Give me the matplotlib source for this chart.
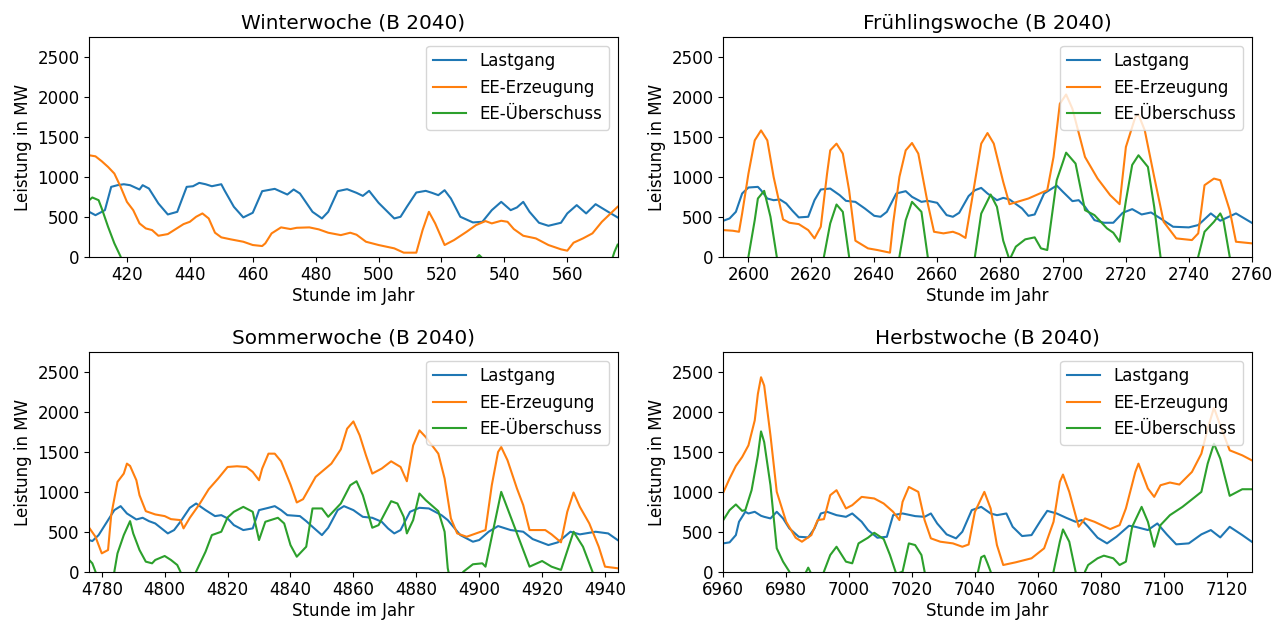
import matplotlib
matplotlib.use("Agg")
import matplotlib.pyplot as plt

# ─────────────────────────────────────────────
# DATA (MW per hour of year)
# EE-Überschuss dips below 0 where the load is larger; the axis cuts it off.
# ─────────────────────────────────────────────

# Winterwoche
winter_last_h = [408, 410, 413, 415, 417, 419, 421, 424, 425, 427, 430, 433, 436, 437, 439, 441, 443, 445,
                 447, 450, 451, 454, 457, 460, 463, 467, 471, 473, 475, 479, 482, 484, 487, 490, 493, 495,
                 497, 500, 505, 507, 509, 512, 515, 517, 519, 521, 523, 526, 530, 533, 536, 539, 542, 544,
                 546, 548, 551, 554, 558, 560, 563, 566, 569, 573, 576]
winter_last = [562, 520, 583, 875, 896, 908, 896, 842, 896, 854, 667, 529, 562, 667, 875, 883, 925, 908,
               883, 908, 833, 625, 492, 550, 821, 850, 779, 842, 792, 562, 479, 562, 821, 846, 800, 762,
               825, 675, 479, 500, 625, 804, 825, 800, 771, 833, 729, 500, 429, 437, 583, 687, 583, 617,
               687, 562, 425, 387, 425, 542, 646, 542, 658, 562, 492]
winter_ee_h = [408, 410, 412, 414, 416, 418, 420, 422, 424, 426, 428, 430, 433, 435, 438, 440, 442, 444,
               446, 448, 450, 453, 457, 460, 463, 464, 466, 469, 472, 474, 478, 481, 484, 488, 491, 493,
               496, 500, 505, 508, 512, 514, 516, 518, 521, 524, 528, 531, 534, 536, 539, 541, 543, 546,
               550, 554, 558, 560, 562, 565, 568, 571, 576]
winter_ee = [1271, 1258, 1196, 1125, 1042, 875, 687, 583, 417, 354, 333, 262, 283, 333, 408, 437, 500, 542,
             479, 300, 242, 217, 187, 146, 133, 167, 292, 367, 346, 362, 367, 342, 300, 270, 300, 275,
             187, 146, 104, 50, 50, 333, 562, 417, 146, 208, 312, 396, 446, 417, 450, 437, 346, 262,
             229, 146, 92, 75, 175, 229, 292, 437, 625]
winter_ueb_h = [408, 409, 411, 412, 414, 416, 418, 419, 531, 532, 533, 574, 575, 576]
winter_ueb = [708, 742, 708, 604, 375, 167, 0, -150, -20, 20, -20, -60, 60, 150]

# Frühlingswoche
spring_last_h = [2592, 2594, 2596, 2598, 2600, 2603, 2604, 2606, 2608, 2610, 2612, 2614, 2616, 2619, 2621,
                 2623, 2626, 2629, 2631, 2634, 2637, 2640, 2642, 2644, 2647, 2650, 2652, 2655, 2657, 2660,
                 2663, 2665, 2667, 2670, 2672, 2674, 2676, 2679, 2681, 2683, 2687, 2689, 2691, 2694, 2698,
                 2700, 2703, 2705, 2707, 2710, 2713, 2716, 2719, 2722, 2725, 2728, 2731, 2735, 2740, 2743,
                 2747, 2750, 2755, 2760]
spring_last = [450, 479, 562, 792, 867, 875, 833, 729, 708, 717, 667, 575, 492, 500, 708,
               842, 854, 771, 700, 687, 604, 512, 500, 562, 792, 821, 750, 687, 700, 675,
               521, 500, 550, 760, 833, 862, 792, 708, 737, 717, 604, 512, 529, 792, 892,
               812, 696, 708, 625, 458, 425, 425, 550, 596, 529, 554, 479, 375, 367, 396,
               542, 450, 542, 425]
spring_ee_h = [2592, 2595, 2597, 2598, 2600, 2602, 2604, 2606, 2608, 2611, 2613, 2616, 2619, 2621, 2623,
               2625, 2626, 2628, 2630, 2632, 2634, 2638, 2641, 2645, 2646, 2648, 2650, 2652, 2654, 2657,
               2659, 2662, 2665, 2667, 2669, 2671, 2674, 2676, 2678, 2681, 2683, 2689, 2695, 2697, 2699,
               2701, 2703, 2707, 2711, 2715, 2718, 2720, 2723, 2724, 2726, 2729, 2732, 2736, 2741, 2743,
               2745, 2748, 2750, 2753, 2755, 2760]
spring_ee = [333, 325, 312, 542, 1042, 1458, 1583, 1458, 1000, 467, 425, 408, 333, 229, 375,
             1042, 1333, 1417, 1292, 833, 200, 104, 83, 50, 417, 1000, 1333, 1425, 1292, 667,
             312, 292, 312, 283, 235, 700, 1417, 1550, 1417, 937, 658, 729, 833, 1250, 1917,
             2033, 1854, 1250, 979, 771, 658, 1375, 1750, 1783, 1583, 1000, 437, 229, 208, 292,
             896, 979, 958, 583, 187, 167]
spring_ueb_h = [2592, 2599, 2600, 2602, 2603, 2605, 2607, 2609, 2610, 2623, 2624, 2626, 2628, 2630, 2632,
                2633, 2647, 2648, 2650, 2652, 2655, 2657, 2658, 2671, 2672, 2674, 2677, 2679, 2681, 2683,
                2685, 2688, 2691, 2693, 2695, 2698, 2701, 2704, 2707, 2710, 2714, 2716, 2718, 2720, 2722,
                2724, 2727, 2729, 2731, 2732, 2742, 2743, 2745, 2748, 2750, 2751, 2753, 2754, 2760]
spring_ueb = [-300, -250, 0, 458, 729, 825, 500, 0, -250, -250, 0, 417, 654, 562, 0,
              -250, -250, 0, 458, 687, 562, 0, -250, -250, 0, 540, 779, 625, 200, -40,
              125, 217, 242, 104, 83, 958, 1304, 1167, 583, 521, 354, 300, 187, 700, 1150,
              1271, 1125, 625, 0, -250, -250, 0, 312, 437, 542, 458, 0, -250, -250]

# Sommerwoche
summer_last_h = [4776, 4777, 4779, 4782, 4784, 4786, 4788, 4791, 4793, 4795, 4797, 4801, 4803, 4805, 4808,
                 4810, 4813, 4816, 4818, 4820, 4822, 4825, 4828, 4830, 4833, 4835, 4837, 4839, 4843, 4845,
                 4847, 4850, 4852, 4855, 4857, 4860, 4863, 4866, 4869, 4871, 4873, 4875, 4878, 4881, 4884,
                 4888, 4890, 4894, 4898, 4900, 4903, 4906, 4910, 4914, 4917, 4922, 4925, 4929, 4932, 4937,
                 4941, 4944]
summer_last = [396, 383, 458, 646, 771, 821, 729, 654, 675, 633, 604, 479, 521, 625, 800,
               854, 771, 696, 708, 667, 583, 521, 542, 771, 800, 821, 771, 708, 696, 633,
               562, 458, 550, 771, 821, 771, 687, 675, 625, 542, 479, 521, 750, 800, 792,
               708, 646, 458, 375, 396, 500, 571, 521, 500, 408, 333, 367, 500, 467, 500,
               479, 396]
summer_ee_h = [4776, 4778, 4780, 4782, 4783, 4785, 4787, 4788, 4789, 4791, 4792, 4794, 4797, 4800, 4802,
               4805, 4806, 4808, 4811, 4814, 4817, 4820, 4823, 4826, 4828, 4830, 4831, 4833, 4835, 4837,
               4840, 4842, 4844, 4848, 4853, 4856, 4858, 4860, 4862, 4864, 4866, 4869, 4872, 4875, 4877,
               4879, 4881, 4883, 4887, 4889, 4891, 4893, 4896, 4899, 4902, 4904, 4906, 4907, 4909, 4912,
               4914, 4916, 4921, 4923, 4926, 4928, 4930, 4932, 4935, 4938, 4940, 4944]
summer_ee = [550, 437, 229, 271, 708, 1125, 1229, 1354, 1325, 1146, 958, 758, 717, 696, 658,
             646, 542, 675, 842, 1033, 1167, 1312, 1321, 1312, 1250, 1146, 1292, 1479, 1479, 1383,
             1092, 867, 908, 1188, 1354, 1533, 1792, 1883, 1708, 1458, 1229, 1292, 1383, 1312, 1133,
             1583, 1771, 1687, 1479, 1167, 667, 479, 437, 479, 521, 1083, 1500, 1562, 1396, 1042,
             833, 521, 521, 467, 367, 750, 992, 812, 604, 312, 62, 42]
summer_ueb_h = [4776, 4777, 4778, 4779, 4783, 4784, 4785, 4787, 4789, 4790, 4792, 4794, 4796, 4797, 4800,
                4802, 4804, 4805, 4806, 4809, 4810, 4813, 4815, 4818, 4820, 4822, 4825, 4828, 4830, 4832,
                4836, 4838, 4840, 4842, 4845, 4847, 4850, 4852, 4856, 4859, 4861, 4863, 4866, 4868, 4872,
                4874, 4876, 4877, 4879, 4881, 4883, 4887, 4889, 4890, 4891, 4894, 4895, 4898, 4901, 4902,
                4905, 4907, 4909, 4913, 4916, 4920, 4923, 4926, 4930, 4933, 4936, 4937, 4944]
summer_ueb = [146, 104, 0, -200, -200, 0, 229, 458, 633, 479, 271, 125, 104, 146, 196,
              146, 83, 0, -200, -200, 0, 250, 458, 500, 679, 750, 812, 750, 396, 625,
              675, 604, 333, 187, 312, 792, 792, 687, 854, 1083, 1133, 958, 550, 583, 883,
              854, 687, 479, 646, 979, 896, 758, 500, 42, -150, -50, 0, 92, 104, 62,
              625, 1000, 792, 375, 62, 133, 62, 21, 500, 312, 0, -200, -200]

# Herbstwoche
autumn_last_h = [6960, 6962, 6964, 6965, 6967, 6968, 6970, 6972, 6973, 6975, 6977, 6979, 6981, 6984, 6987,
                 6989, 6991, 6993, 6996, 6999, 7001, 7004, 7006, 7009, 7012, 7014, 7017, 7021, 7024, 7026,
                 7028, 7031, 7034, 7036, 7039, 7042, 7045, 7047, 7050, 7052, 7055, 7058, 7061, 7063, 7066,
                 7069, 7072, 7074, 7076, 7079, 7082, 7085, 7089, 7091, 7095, 7098, 7101, 7104, 7108, 7112,
                 7115, 7118, 7121, 7125, 7128]
autumn_last = [354, 367, 458, 625, 750, 729, 750, 700, 687, 667, 750, 667, 542, 437, 429,
               542, 729, 750, 708, 687, 729, 625, 521, 425, 437, 708, 729, 696, 687, 729,
               604, 467, 417, 500, 771, 812, 729, 708, 729, 562, 446, 458, 646, 762, 729,
               675, 625, 646, 562, 425, 354, 437, 575, 562, 521, 604, 467, 342, 354, 467,
               521, 429, 562, 458, 375]
autumn_ee_h = [6960, 6962, 6964, 6966, 6968, 6970, 6971, 6972, 6973, 6975, 6977, 6980, 6983, 6985, 6988,
               6990, 6992, 6994, 6996, 6999, 7001, 7004, 7008, 7011, 7014, 7016, 7017, 7019, 7022, 7024,
               7026, 7029, 7033, 7036, 7038, 7040, 7043, 7045, 7047, 7049, 7053, 7058, 7062, 7065, 7067,
               7068, 7070, 7073, 7075, 7078, 7083, 7086, 7088, 7091, 7092, 7095, 7097, 7099, 7102, 7105,
               7109, 7112, 7114, 7116, 7118, 7121, 7125, 7128]
autumn_ee = [992, 1167, 1325, 1437, 1583, 1896, 2229, 2437, 2333, 1708, 1000, 625, 425, 375, 458,
             646, 658, 958, 1021, 792, 833, 937, 917, 854, 750, 646, 875, 1062, 1000, 646,
             417, 375, 354, 312, 340, 750, 1000, 792, 333, 83, 117, 167, 292, 625, 1125,
             1217, 1000, 562, 667, 625, 533, 583, 792, 1250, 1354, 1042, 937, 1083, 1117, 1092,
             1250, 1479, 1792, 2054, 1833, 1521, 1458, 1396]
autumn_ueb_h = [6960, 6962, 6964, 6966, 6967, 6969, 6971, 6972, 6973, 6975, 6977, 6979, 6981, 6982, 6986,
                6987, 6988, 6991, 6992, 6994, 6996, 6999, 7001, 7003, 7006, 7008, 7011, 7013, 7015, 7017,
                7019, 7021, 7023, 7024, 7025, 7040, 7041, 7042, 7043, 7044, 7045, 7046, 7064, 7065, 7067,
                7068, 7070, 7072, 7073, 7074, 7075, 7076, 7079, 7081, 7084, 7086, 7088, 7090, 7093, 7095,
                7097, 7099, 7102, 7106, 7110, 7112, 7114, 7116, 7118, 7121, 7125, 7128]
autumn_ueb = [646, 771, 842, 762, 771, 1021, 1458, 1758, 1625, 1083, 292, 125, 0, -100, -30,
              50, -30, -100, 0, 208, 312, 125, 104, 354, 425, 487, 408, 208, -30, 0,
              354, 333, 208, 0, -250, -250, 0, 180, 200, 104, 0, -200, -200, 0, 375,
              529, 375, 0, -200, -200, 0, 83, 167, 200, 167, 83, 125, 562, 812, 625,
              312, 583, 708, 812, 937, 1000, 1354, 1604, 1417, 950, 1033, 1033]

TITLES = ["Winterwoche (B 2040)", "Frühlingswoche (B 2040)",
          "Sommerwoche (B 2040)", "Herbstwoche (B 2040)"]
WEEK_START = [408, 2592, 4776, 6960]
YTICKS = [0, 500, 1000, 1500, 2000, 2500]

plt.rcParams["font.size"] = 12

fig, axes = plt.subplots(2, 2, figsize=(12.74, 6.22), dpi=100)
fig.subplots_adjust(left=0.070, right=0.9825, bottom=0.081, top=0.940,
                    wspace=0.2, hspace=0.436)

panels = [
    (winter_last_h, winter_last, winter_ee_h, winter_ee, winter_ueb_h, winter_ueb),
    (spring_last_h, spring_last, spring_ee_h, spring_ee, spring_ueb_h, spring_ueb),
    (summer_last_h, summer_last, summer_ee_h, summer_ee, summer_ueb_h, summer_ueb),
    (autumn_last_h, autumn_last, autumn_ee_h, autumn_ee, autumn_ueb_h, autumn_ueb),
]

for ax, (lh, lv, eh, ev, uh, uv), title, start in zip(axes.flat, panels, TITLES, WEEK_START):
    ax.plot(lh, lv, color="C0", label="Lastgang")
    ax.plot(eh, ev, color="C1", label="EE-Erzeugung")
    ax.plot(uh, uv, color="C2", label="EE-Überschuss")
    ax.set_xlim(start, start + 168)
    ax.set_ylim(0, 2750)
    ax.set_yticks(YTICKS)
    ax.set_title(title)
    ax.set_xlabel("Stunde im Jahr", labelpad=2)
    ax.set_ylabel("Leistung in MW")
    ax.legend(loc="upper right")

fig.savefig("out.png", dpi=100)
